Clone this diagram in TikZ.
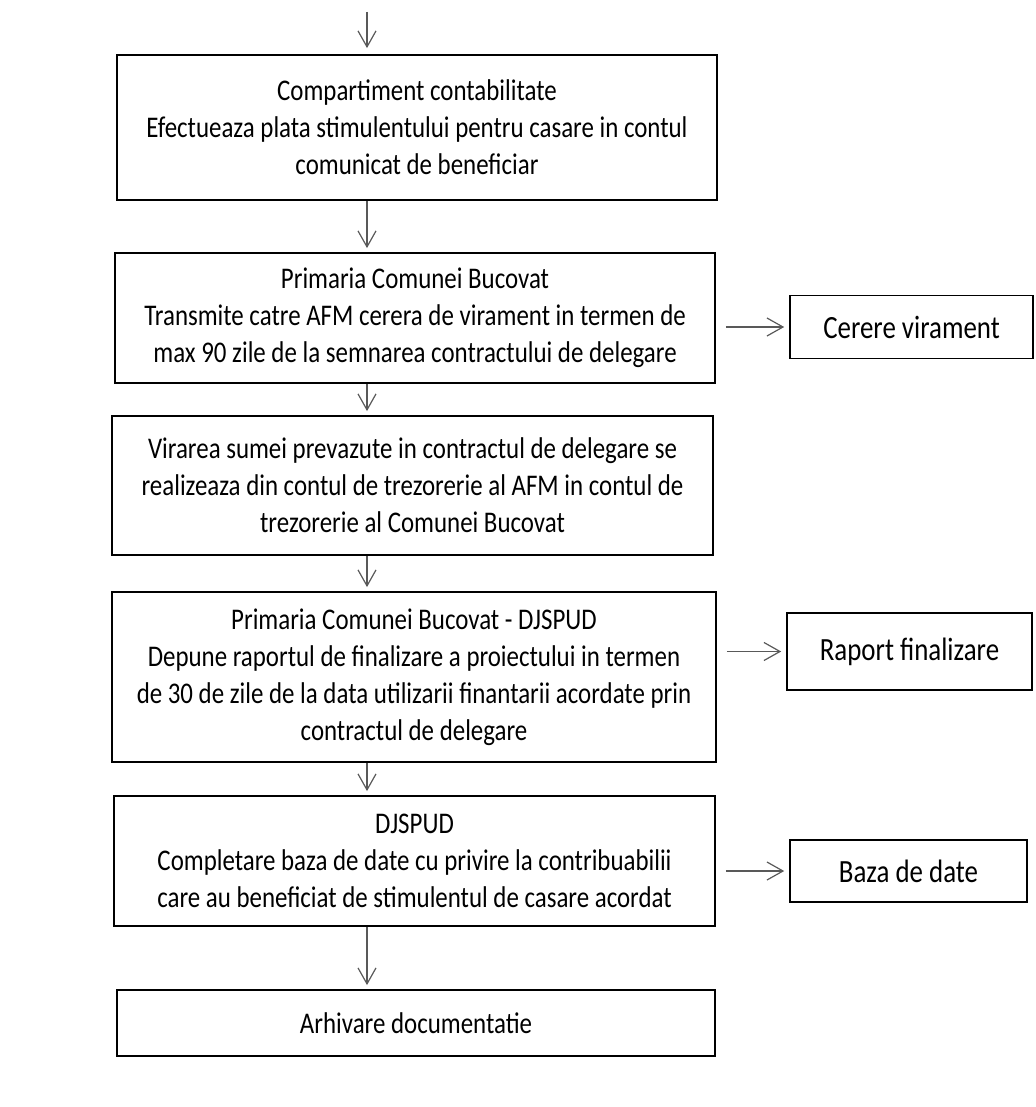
\documentclass[tikz,border=0pt]{standalone}
\usepackage{fontspec}
\setmainfont{Carlito}[FakeStretch=0.83]
\usetikzlibrary{arrows.meta,positioning}
\tikzset{
stepbox/.style={draw, line width=0.9pt, align=center, inner sep=0pt,
  font=\fontsize{15}{18.5}\selectfont},
sidebox/.style={draw, line width=0.8pt, align=center, inner sep=0pt,
  font=\fontsize{16.2}{18}\selectfont},
flow/.style={-{Straight Barb[length=8pt,width=9pt]}, line width=0.6pt, draw=black!65},
}

\begin{document}
\begin{tikzpicture}[x=0.5pt,y=-0.5pt]
        \useasboundingbox (0,0) rectangle (1035,1107);

        % main column
        \node[stepbox, minimum width=300pt, minimum height=72.5pt] (b1) at (417,127.5)
            {Compartiment contabilitate\\Efectueaza plata stimulentului pentru casare in contul\\comunicat de beneficiar};
        \node[stepbox, minimum width=300pt, minimum height=65pt] (b2) at (415,318)
            {Primaria Comunei Bucovat\\Transmite catre AFM cerera de virament in termen de\\max 90 zile de la semnarea contractului de delegare};
        \node[stepbox, minimum width=300.5pt, minimum height=69.5pt] (b3) at (412.5,485.5)
            {Virarea sumei prevazute in contractul de delegare se\\realizeaza din contul de trezorerie al AFM in contul de\\trezorerie al Comunei Bucovat};
        \node[stepbox, minimum width=302pt, minimum height=85pt] (b4) at (414,677)
            {Primaria Comunei Bucovat - DJSPUD\\Depune raportul de finalizare a proiectului in termen\\de 30 de zile de la data utilizarii finantarii acordate prin\\contractul de delegare};
        \node[stepbox, minimum width=300.5pt, minimum height=65pt] (b5) at (414.5,861)
            {DJSPUD\\Completare baza de date cu privire la contribuabilii\\care au beneficiat de stimulentul de casare acordat};
        \node[stepbox, minimum width=299pt, minimum height=33pt] (b6) at (416,1023)
            {Arhivare documentatie};

        % documents
        \node[sidebox, minimum width=121.5pt, minimum height=31.5pt] (s1) at (911.5,327) {Cerere virament};
        \node[sidebox, minimum width=122.5pt, minimum height=38.5pt] (s2) at (909.5,651.5) {Raport finalizare};
        \node[sidebox, minimum width=118.5pt, minimum height=31pt] (s3) at (908.5,871) {Baza de date};

        \coordinate (top) at (367,12);
        \draw[flow, shorten >=3pt] (top) -- (b1.north -| top);
        \draw[flow, shorten >=2pt] (b1.south -| top) -- (b2.north -| top);
        \draw[flow, shorten >=2pt] (b2.south -| top) -- (b3.north -| top);
        \draw[flow, shorten >=2pt] (b3.south -| top) -- (b4.north -| top);
        \draw[flow, shorten >=2pt] (b4.south -| top) -- (b5.north -| top);
        \draw[flow, shorten >=2pt] (b5.south -| top) -- (b6.north -| top);

        \draw[flow, shorten <=5pt, shorten >=2.5pt] (b2.east |- s1.west) -- (s1.west);
        \draw[flow, shorten <=5pt, shorten >=2.5pt] (b4.east |- s2.west) -- (s2.west);
        \draw[flow, shorten <=5pt, shorten >=2.5pt] (b5.east |- s3.west) -- (s3.west);
\end{tikzpicture}
\end{document}
